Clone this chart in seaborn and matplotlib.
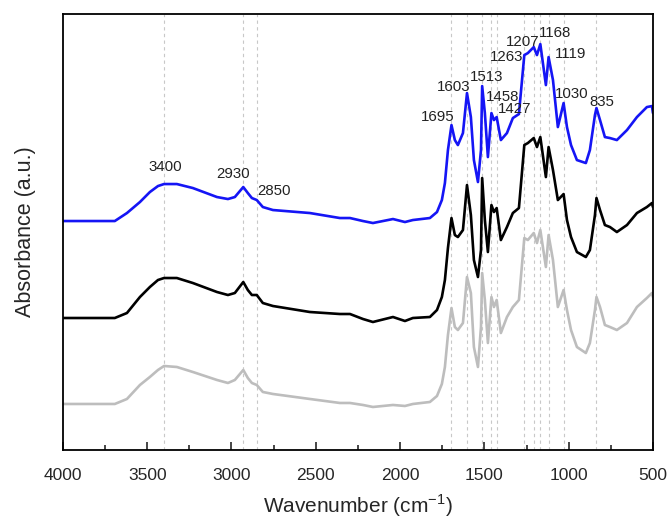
import numpy as np
import pandas as pd
import matplotlib
matplotlib.use('Agg')
import matplotlib.pyplot as plt
import seaborn as sns
from matplotlib.ticker import MultipleLocator

# wavenumber grid (cm-1)
wavenumber = [4000, 3692, 3620, 3543, 3484, 3436, 3400, 3324, 3229, 3086,
              3021, 2980, 2930, 2903, 2879, 2850, 2814, 2754, 2535, 2357,
              2297, 2220, 2161, 2042, 1971, 1924, 1823, 1781, 1752, 1734,
              1716, 1695, 1675, 1657, 1627, 1603, 1580, 1562, 1538, 1520,
              1513, 1497, 1479, 1458, 1443, 1427, 1402, 1366, 1331, 1295,
              1263, 1242, 1207, 1188, 1168, 1135, 1119, 1093, 1064, 1030,
              1010, 986, 951, 898, 874, 844, 835, 814, 785, 755,
              714, 654, 595, 536, 506, 500]

# absorbance (arbitrary units, offset spectra)
blue_abs = [229, 229, 237, 248, 258, 264, 266, 266, 262, 253,
            251, 253, 263, 257, 252, 250, 243, 240, 237, 232,
            232, 229, 227, 231, 228, 230, 232, 238, 250, 267,
            300, 325, 310, 305, 317, 357, 333, 290, 268, 300,
            364, 337, 293, 337, 330, 333, 310, 317, 332, 336,
            395, 397, 403, 395, 406, 365, 393, 370, 323, 347,
            323, 305, 290, 287, 300, 335, 342, 330, 313, 312,
            310, 320, 333, 343, 344, 337]
black_abs = [132, 132, 137, 153, 163, 170, 172, 172, 167, 158,
             155, 157, 168, 160, 155, 155, 147, 144, 138, 136,
             136, 131, 128, 133, 129, 132, 133, 140, 153, 170,
             202, 232, 215, 213, 220, 265, 235, 190, 173, 200,
             272, 230, 198, 245, 238, 242, 210, 223, 237, 242,
             305, 307, 312, 303, 313, 273, 303, 280, 250, 256,
             230, 213, 198, 193, 200, 235, 252, 240, 225, 223,
             218, 225, 237, 243, 247, 243]
gray_abs = [46, 46, 51, 65, 73, 80, 84, 83, 78, 70,
            67, 70, 80, 72, 67, 65, 58, 56, 51, 47,
            47, 45, 43, 45, 44, 46, 48, 54, 66, 83,
            115, 142, 123, 120, 127, 173, 157, 103, 83, 123,
            177, 150, 107, 153, 143, 150, 117, 133, 143, 150,
            212, 210, 217, 207, 220, 183, 215, 190, 143, 160,
            140, 120, 103, 97, 107, 140, 153, 143, 125, 123,
            120, 127, 143, 152, 157, 153]

# marked peaks and where their labels sit
peaks = [3400, 2930, 2850, 1695, 1603, 1513, 1458, 1427, 1263, 1207, 1168, 1119, 1030, 835]
label_x = [3395, 2992, 2748, 1775, 1681, 1485, 1390, 1319, 1366, 1271, 1081, 986, 981, 803]
label_y = [283, 276, 259, 333, 363, 373, 353, 341, 393, 408, 417, 396, 356, 348]

sns.set_style('ticks')
plt.rcParams['font.family'] = ['Liberation Sans', 'DejaVu Sans']
plt.rcParams['mathtext.fontset'] = 'custom'
plt.rcParams['mathtext.rm'] = 'Liberation Sans'

fig = plt.figure(figsize=(6.69, 5.22), dpi=100)
ax = fig.add_axes([0.094, 0.138, 0.882, 0.835])

for p in peaks:
    ax.axvline(p, color='#c8c8c8', ls=(0, (3, 3)), lw=0.8, zorder=0)

df = pd.DataFrame({'w': wavenumber, 'blue': blue_abs, 'black': black_abs, 'gray': gray_abs})
sns.lineplot(data=df, x='w', y='gray', color='#bdbdbd', lw=1.9, ax=ax, estimator=None)
sns.lineplot(data=df, x='w', y='black', color='black', lw=1.9, ax=ax, estimator=None)
sns.lineplot(data=df, x='w', y='blue', color='#1515f5', lw=1.9, ax=ax, estimator=None)

for t, x, y in zip(peaks, label_x, label_y):
    ax.text(x, y, str(t), ha='center', va='center', fontsize=10.8, color='#222222')

ax.set_xlim(4000, 500)
ax.set_ylim(0, 436)
ax.xaxis.set_major_locator(MultipleLocator(500))
ax.xaxis.set_minor_locator(MultipleLocator(250))
ax.tick_params(axis='x', which='major', direction='in', length=6, width=1.2, labelsize=12.5, pad=13)
ax.tick_params(axis='x', which='minor', direction='in', length=3.5, width=1.2)
ax.set_yticks([])
for s in ax.spines.values():
    s.set_linewidth(1.3)
    s.set_color('black')

ax.set_xlabel('Wavenumber (cm$^{\\mathrm{-1}}$)', fontsize=15, labelpad=7)
ax.set_ylabel('Absorbance (a.u.)', fontsize=15.5, labelpad=19)

fig.savefig('out.png', dpi=100)
